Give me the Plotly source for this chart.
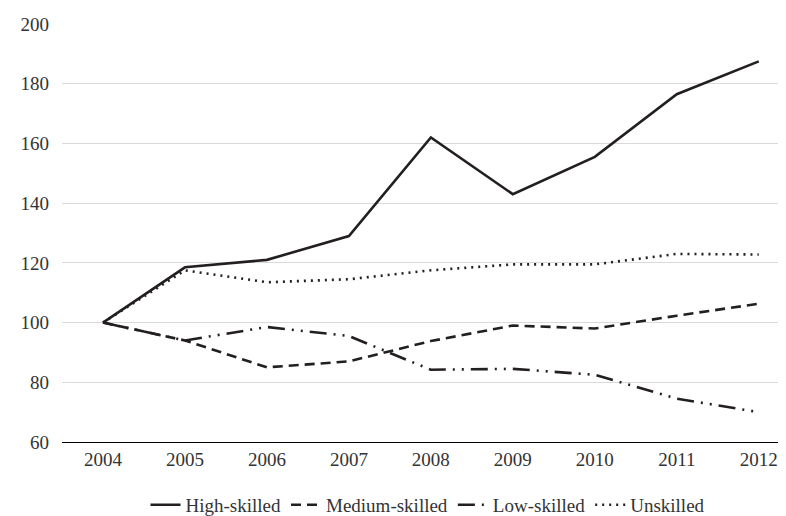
import plotly.graph_objects as go

years = ["2004", "2005", "2006", "2007", "2008", "2009", "2010", "2011", "2012"]
high_skilled = [100, 118.5, 121, 129, 162, 143, 155.5, 176.5, 187.5]
medium_skilled = [100, 94, 85, 87, 93.8, 99, 98, 102.3, 106.3]
low_skilled = [100, 94, 98.5, 95.5, 84.2, 84.5, 82.5, 74.5, 70]
unskilled = [100, 117.5, 113.5, 114.5, 117.5, 119.5, 119.5, 123, 122.8]
y_ticks = [60, 80, 100, 120, 140, 160, 180, 200]

color = "#231f20"
fig = go.Figure()
fig.add_trace(go.Scatter(x=years, y=high_skilled, name="High-skilled", mode="lines",
                         line=dict(color=color, width=2.6)))
fig.add_trace(go.Scatter(x=years, y=medium_skilled, name="Medium-skilled", mode="lines",
                         line=dict(color=color, width=2.6, dash="10px,6px")))
fig.add_trace(go.Scatter(x=years, y=low_skilled, name="Low-skilled", mode="lines",
                         line=dict(color=color, width=2.6, dash="17px,7px,2px,7px,2px,7px")))
fig.add_trace(go.Scatter(x=years, y=unskilled, name="Unskilled", mode="lines",
                         line=dict(color=color, width=2.6, dash="2px,5px")))

serif = "'Liberation Serif', 'Times New Roman', Times, 'DejaVu Serif', serif"
fig.update_layout(
    width=786, height=516,
    margin=dict(l=54, r=0, t=16, b=75),
    paper_bgcolor="white", plot_bgcolor="white",
    font=dict(family=serif, size=19, color="#333333"),
    showlegend=True,
    legend=dict(orientation="h", x=0.5, xanchor="center", y=-0.105, yanchor="top",
                font=dict(family=serif, size=19, color="#333333"), itemwidth=30, tracegroupgap=0),
    xaxis=dict(type="category", showgrid=False, showline=True, linecolor="black", linewidth=1.3,
               ticks="", tickfont=dict(family=serif, size=19), range=[-0.5, 8.43]),
    yaxis=dict(range=[59.99, 200.01], tickvals=y_ticks, showgrid=True, gridcolor="#d9d9d9", gridwidth=1,
               zeroline=False, showline=False, ticks="", tickfont=dict(family=serif, size=19),
               ticklabelstandoff=12),
)
fig.write_html("out.html")
